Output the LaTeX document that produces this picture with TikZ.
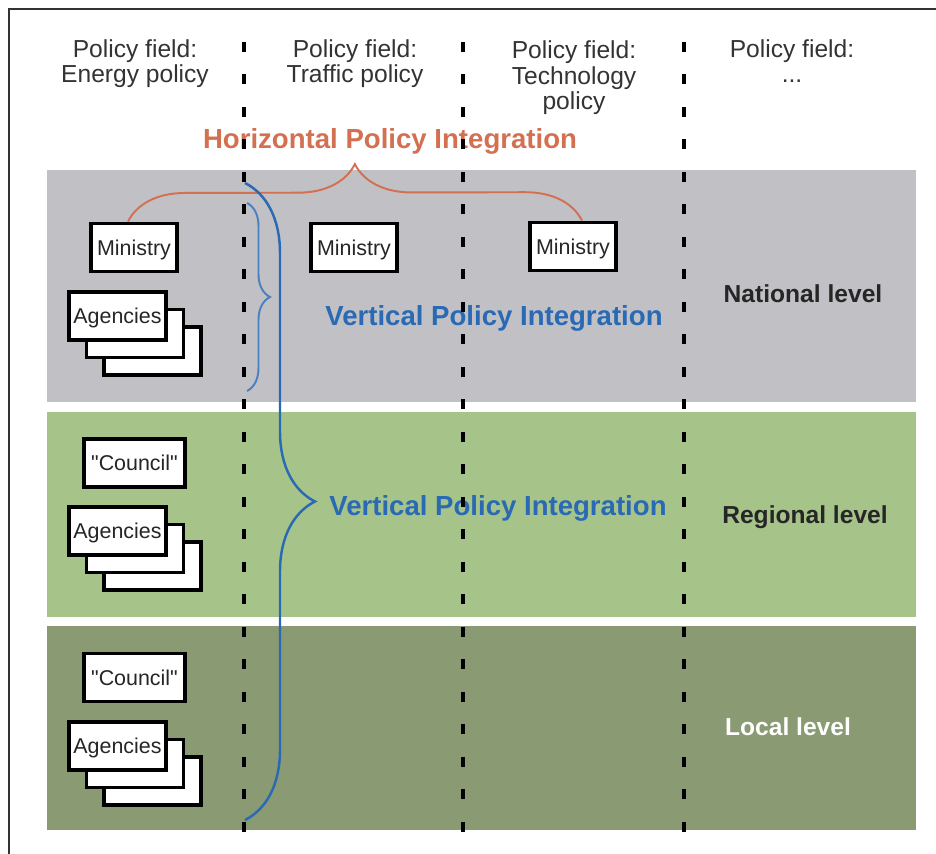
\documentclass[tikz,border=0pt]{standalone}
\usepackage{fontspec}
\setmainfont{Liberation Sans}
\usetikzlibrary{decorations.pathreplacing}

\definecolor{bandgray}{RGB}{192,192,197}
\definecolor{bandgreen}{RGB}{166,196,138}
\definecolor{banddark}{RGB}{138,154,114}
\definecolor{horiz}{RGB}{212,112,82}
\definecolor{vert}{RGB}{42,106,180}

\tikzset{
  fieldtext/.style={font=\fontsize{14}{14.7}\selectfont, text=black!80, align=center, anchor=base},
  box/.style={draw=black, line width=2.2pt, fill=white, inner sep=0pt, minimum height=0.96cm,
    text depth=0pt, font=\fontsize{12.2}{14}\selectfont, text=black!85},
  integ/.style={font=\bfseries\fontsize{15.7}{18}\selectfont, anchor=base},
  level/.style={font=\bfseries\fontsize{14}{16}\selectfont, anchor=base},
  fieldline/.style={line width=2.8pt, dash pattern=on 0.2cm off 0.45cm},
}

\begin{document}
\begin{tikzpicture}[x=0.02cm, y=-0.02cm]
    % Рамка
    \useasboundingbox (0,0) rectangle (936,854);
    \draw[line width=0.8pt, black!80] (936,9) -- (9,9) -- (9,854);

    % Полосы уровней
    \fill[bandgray]  (47,170) rectangle (916,402);
    \fill[bandgreen] (47,412) rectangle (916,617);
    \fill[banddark]  (47,626) rectangle (916,830);

    % Заголовки столбцов (базовая линия последней строки)
    \node[fieldtext] (fEnergy)  at (135,83)  {Policy field:\\Energy policy};
    \node[fieldtext] (fTraffic) at (355,83)  {Policy field:\\Traffic policy};
    \node[fieldtext] (fTech)    at (574,110) {Policy field:\\Technology\\policy};
    \node[fieldtext] (fMore)    at (792,83)  {Policy field:\\...};

    % Министерства и советы
    \node[box, minimum width=1.72cm] (min1) at (134,247.5) {Ministry};
    \node[box, minimum width=1.72cm] (min2) at (354,247.5) {Ministry};
    \node[box, minimum width=1.72cm] (min3) at (573,246.5) {Ministry};
    \node[box, minimum width=2.02cm] (councilReg) at (134.5,463) {\textquotedbl Council\textquotedbl};
    \node[box, minimum width=2.02cm] (councilLoc) at (134.5,677.5) {\textquotedbl Council\textquotedbl};

    % Стопки агентств
    \foreach \lvl/\y in {nat/316, reg/531, loc/746} {
        \node[box, minimum width=1.94cm] (ag\lvl2) at (152.5,\y+35) {};
        \node[box, minimum width=1.94cm] (ag\lvl1) at (135,\y+17.5) {};
        \node[box, minimum width=1.94cm] (ag\lvl0) at (117.5,\y) {Agencies};
    }

    % Подписи интеграции
    \node[integ, text=horiz] (hpi)  at (390,149) {Horizontal Policy Integration};
    \node[integ, text=vert]  (vpi1) at (494,326) {Vertical Policy Integration};
    \node[integ, text=vert]  (vpi2) at (498,515) {Vertical Policy Integration};

    % Подписи уровней
    \node[level, text=black!85] (natLevel) at (803,303) {National level};
    \node[level, text=black!85] (regLevel) at (805,523) {Regional level};
    \node[level, text=white]    (locLevel) at (788,735) {Local level};

    % Фигурные скобки
    \draw[horiz, line width=1.1pt, decorate, decoration={brace, amplitude=1.14cm}]
        ([xshift=-0.12cm]min1.north) -- ([xshift=0.18cm]min3.north);
    \coordinate (natTop) at (247,203);
    \coordinate (natBot) at (247,391);
    \draw[vert!85, line width=1.1pt, decorate, decoration={brace, amplitude=0.46cm}]
        (natTop) -- (natBot);
    \coordinate (allTop) at (245,183);
    \coordinate (allBot) at (245,820);
    \draw[vert, line width=1.4pt, decorate, decoration={brace, amplitude=1.4cm}]
        (allTop) -- (allBot);

    % Границы областей политики
    \foreach \x in {244,463,684}
        \draw[fieldline] (\x,42) -- (\x,832);

\end{tikzpicture}
\end{document}
